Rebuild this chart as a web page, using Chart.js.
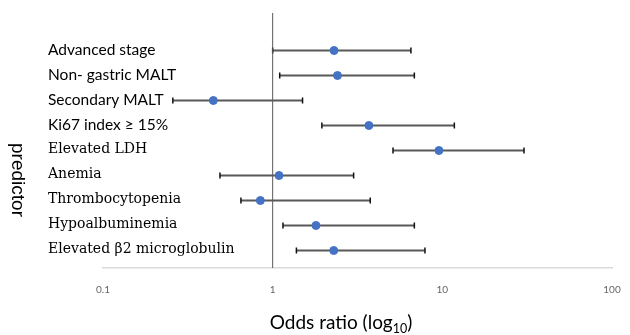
<!DOCTYPE html>
<html lang="en">
<head>
    <meta charset="UTF-8">
    <script src="https://cdn.jsdelivr.net/npm/chart.js"></script>
    <title>Forest plot</title>
    <style>
        body { margin: 0; background: #fff; }
    </style>
</head>
<body>
    <canvas id="forestCanvas" width="630" height="335"></canvas>
<script>
    // rows from top to bottom
    const predictors = [
        'Advanced stage',
        'Non- gastric MALT',
        'Secondary MALT',
        'Ki67 index \u2265 15%',
        'Elevated LDH',
        'Anemia',
        'Thrombocytopenia',
        'Hypoalbuminemia',
        'Elevated \u03b22 microglobulin'
    ];
    const oddsRatio = [2.30, 2.41, 0.447, 3.69, 9.55, 1.09, 0.846, 1.80, 2.29];
    const ciLow = [1.00, 1.10, 0.258, 1.95, 5.12, 0.489, 0.65, 1.15, 1.38];
    const ciHigh = [6.53, 6.84, 1.50, 11.77, 30.3, 3.00, 3.76, 6.84, 7.90];
    const xTicks = [0.1, 1, 10, 100];
    const refValue = 1;

    const n = predictors.length;
    const rowY = predictors.map((p, i) => n - i);

    let pontos = [];
    for (let i = 0; i < n; i++) {
        pontos.push({ x: oddsRatio[i], y: rowY[i] });
    }

    // error bars + labels + axis titles
    const forestPlugin = {
        id: 'forest',
        beforeDatasetsDraw(chart) {
            const ctx = chart.ctx;
            const xs = chart.scales.x;
            const ys = chart.scales.y;
            ctx.save();
            for (let i = 0; i < n; i++) {
                let y = ys.getPixelForValue(rowY[i]);
                let x1 = xs.getPixelForValue(ciLow[i]);
                let x2 = xs.getPixelForValue(ciHigh[i]);
                ctx.strokeStyle = '#595959';
                ctx.lineWidth = 1.8;
                ctx.beginPath();
                ctx.moveTo(x1, y);
                ctx.lineTo(x2, y);
                ctx.stroke();
                // caps
                ctx.strokeStyle = '#111';
                ctx.lineWidth = 1.5;
                ctx.beginPath();
                ctx.moveTo(x1, y - 3);
                ctx.lineTo(x1, y + 3);
                ctx.moveTo(x2, y - 3);
                ctx.lineTo(x2, y + 3);
                ctx.stroke();
            }
            ctx.restore();
        },
        afterDraw(chart) {
            const ctx = chart.ctx;
            const ys = chart.scales.y;
            ctx.save();
            ctx.fillStyle = '#000';
            ctx.textAlign = 'left';
            ctx.textBaseline = 'middle';
            for (let i = 0; i < n; i++) {
                // first four labels are sans, the rest serif like the original
                ctx.font = i < 4 ? '15.5px Lato' : '14px "DejaVu Serif"';
                ctx.fillText(predictors[i], 48, ys.getPixelForValue(rowY[i]) - 1);
            }

            // y title
            ctx.save();
            ctx.translate(17, 180);
            ctx.rotate(Math.PI / 2);
            ctx.textAlign = 'center';
            ctx.font = '19px "Liberation Sans"';
            ctx.fillText('predictor', 0, 0);
            ctx.restore();

            // x title with subscript
            ctx.textBaseline = 'alphabetic';
            ctx.font = '19px Lato';
            let a = 'Odds ratio (log';
            let wa = ctx.measureText(a).width;
            ctx.font = '12.5px Lato';
            let wb = ctx.measureText('10').width;
            ctx.font = '19px Lato';
            let wc = ctx.measureText(')').width;
            let x0 = 341 - (wa + wb + wc) / 2;
            let base = 329;
            ctx.fillText(a, x0, base);
            ctx.font = '12.5px Lato';
            ctx.fillText('10', x0 + wa, base + 4);
            ctx.font = '19px Lato';
            ctx.fillText(')', x0 + wa + wb, base);
            ctx.restore();
        }
    };

    const config = {
        type: 'scatter',
        data: {
            datasets: [
                {
                    type: 'line',
                    data: [{ x: refValue, y: 0.3 }, { x: refValue, y: 10.5 }],
                    borderColor: '#595959',
                    borderWidth: 1,
                    pointRadius: 0,
                    clip: false
                },
                {
                    data: pontos,
                    backgroundColor: '#4472C4',
                    borderColor: '#4472C4',
                    pointRadius: 4
                }
            ]
        },
        options: {
            responsive: false,
            animation: false,
            layout: {
                padding: { left: 103, right: 18, top: 13, bottom: 0 }
            },
            plugins: {
                legend: { display: false },
                tooltip: { enabled: false }
            },
            scales: {
                x: {
                    type: 'logarithmic',
                    min: 0.1,
                    max: 100,
                    afterBuildTicks: function (scale) {
                        scale.ticks = xTicks.map(v => ({ value: v }));
                    },
                    afterFit: function (scale) {
                        scale.height = 67;
                        // tick padding must not widen the side margins
                        scale.paddingLeft = 0;
                        scale.paddingRight = 0;
                    },
                    grid: { display: false, drawTicks: false },
                    border: { color: '#d9d9d9', width: 1.5 },
                    ticks: {
                        padding: 16,
                        color: '#666',
                        font: { family: 'Lato', size: 10 },
                        maxRotation: 0,
                        autoSkip: false,
                        callback: function (value) {
                            return String(value);
                        }
                    }
                },
                y: {
                    display: false,
                    min: 0.3,
                    max: 10.5
                }
            }
        },
        plugins: [forestPlugin]
    };

    let myChart = new Chart(document.getElementById('forestCanvas'), config);
</script>
</body>
</html>
